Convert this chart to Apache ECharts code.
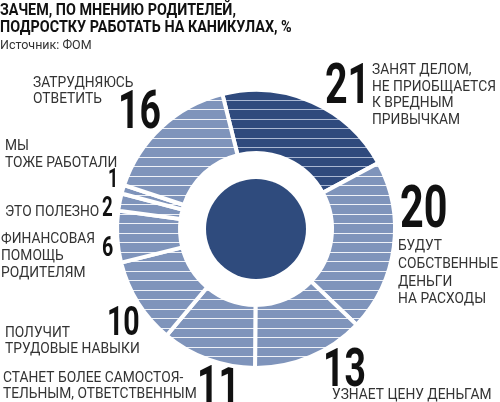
<!DOCTYPE html>
<html><head><meta charset="utf-8">
<script src="https://cdn.jsdelivr.net/npm/echarts@6/dist/echarts.min.js"></script>
<style>html,body{margin:0;padding:0;background:#fff}#c{width:500px;height:402px}</style>
</head><body><div id="c"></div>
<script>
const title = 'ЗАЧЕМ, ПО МНЕНИЮ РОДИТЕЛЕЙ,\nПОДРОСТКУ РАБОТАТЬ НА КАНИКУЛАХ, %';
const source = 'Источник: ФОМ';
const categories = [
  'ЗАНЯТ ДЕЛОМ,\nНЕ ПРИОБЩАЕТСЯ\nК ВРЕДНЫМ\nПРИВЫЧКАМ',
  'БУДУТ\nСОБСТВЕННЫЕ\nДЕНЬГИ\nНА РАСХОДЫ',
  'УЗНАЕТ ЦЕНУ ДЕНЬГАМ',
  'СТАНЕТ БОЛЕЕ САМОСТОЯ-\nТЕЛЬНЫМ, ОТВЕТСТВЕННЫМ',
  'ПОЛУЧИТ\nТРУДОВЫЕ НАВЫКИ',
  'ФИНАНСОВАЯ\nПОМОЩЬ\nРОДИТЕЛЯМ',
  'ЭТО ПОЛЕЗНО',
  'МЫ\nТОЖЕ РАБОТАЛИ',
  'ЗАТРУДНЯЮСЬ\nОТВЕТИТЬ'
];
const values = [21, 20, 13, 11, 10, 6, 2, 1, 16];

// layout (positions only)
const numPos = [[325,85,40],[400,209,42],[323,369,38],[197,386,38],[107,322.5,29],[102,247,20],[102,207.5,19],[108,179,18],[118,111,38]];
const labPos = [[372,69,16.7],[398,245.5,17.7],[332,394,16],[3,377.5,16],[5,332.5,16],[1,238.5,17],[5,211.5,16],[5,145.5,17],[33,82.5,16]];

const FONT = "Roboto, 'Noto Sans', sans-serif";
const OFF = 0.063; // cap-centre vs canvas 'middle' baseline, in em

function stripe(base, line) {
  const c = document.createElement('canvas');
  c.width = 8; c.height = 19;
  const g = c.getContext('2d');
  g.fillStyle = base; g.fillRect(0,0,8,19);
  g.fillStyle = line; g.fillRect(0,5,8,1); g.fillRect(0,14,8,1);
  return c;
}
const darkPat = {image: stripe('#2f4a7d', '#a9b7d2'), repeat: 'repeat'};
const lightPat = {image: stripe('#7f94bb', '#eef1f7'), repeat: 'repeat'};

const graphics = [];
graphics.push({type:'text', x:0, y:10 + OFF*17 - 8.5, scaleX:0.845, style:{text:title, fontSize:17, fontWeight:'bold', fontFamily:FONT, lineHeight:17, fill:'#111', align:'left', verticalAlign:'top'}});
graphics.push({type:'text', x:0, y:45.5 + OFF*12.5 - 7, style:{text:source, fontSize:12.5, fontFamily:FONT, lineHeight:14, fill:'#333', align:'left', verticalAlign:'top'}});
values.forEach((v, i) => {
  const [nx, ncy, nh] = numPos[i];
  const F = nh / 0.711;
  graphics.push({type:'text', x:nx, y:ncy + OFF*F - F/2, scaleX:0.7, style:{text:String(v), fontSize:F, fontWeight:'bold', fontFamily:FONT, lineHeight:F, fill:'#111', align:'left', verticalAlign:'top'}});
  const [lx, lcy, lh] = labPos[i];
  graphics.push({type:'text', x:lx, y:lcy + OFF*15.5 - lh/2, scaleX:0.89, style:{text:categories[i], fontSize:15.5, fontFamily:FONT, lineHeight:lh, fill:'#333', align:'left', verticalAlign:'top'}});
});

const chart = echarts.init(document.getElementById('c'), null, {renderer:'canvas'});
chart.setOption({
  animation: false,
  backgroundColor: '#fff',
  series: [
    {
      type: 'pie', silent: true, center: [256, 229], radius: [76, 139],
      startAngle: 104, clockwise: true, label: {show:false}, labelLine: {show:false},
      itemStyle: {borderColor: '#fff', borderWidth: 4},
      emphasis: {disabled: true},
      data: values.map((v, i) => ({value: v, name: categories[i], itemStyle: {color: i === 0 ? darkPat : lightPat}}))
    },
    {
      type: 'pie', silent: true, center: [256, 229], radius: [0, 50],
      label: {show:false}, labelLine: {show:false}, emphasis: {disabled: true},
      itemStyle: {color: '#2f4b7d'},
      data: [{value: 1, name: 'center'}]
    }
  ],
  graphic: graphics
});
</script>
</body></html>
